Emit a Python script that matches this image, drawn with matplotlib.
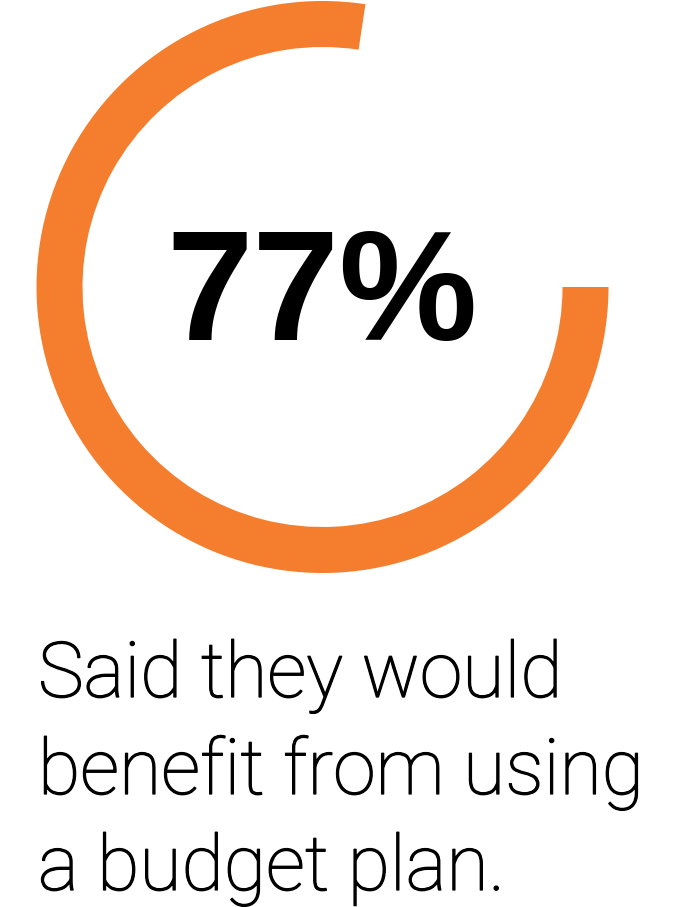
import matplotlib
matplotlib.use("Agg")
import matplotlib.pyplot as plt
from matplotlib.patches import Wedge
import matplotlib.patheffects as pe

# Data
arc_percent = 77.4          # share of the ring that is filled
headline = "77%"
caption_lines = ["Said they would", "benefit from using", "a budget plan."]

W, H = 674, 907
fig = plt.figure(figsize=(W / 100, H / 100), dpi=100)
ax = fig.add_axes([0, 0, 1, 1])
ax.set_xlim(0, W)
ax.set_ylim(H, 0)
ax.axis("off")

orange = "#F47E2D"
cx, cy = 322.5, 287
r_out, ring_w = 286, 46

# y axis is inverted, so increasing theta runs clockwise on screen
span = arc_percent / 100 * 360
ax.add_patch(Wedge((cx, cy), r_out, 0, span, width=ring_w,
                   facecolor=orange, edgecolor="none", antialiased=True))

ax.text(cx, 340, headline, ha="center", va="baseline", fontsize=112,
        fontweight="bold", family=["Liberation Sans", "DejaVu Sans"], color="black")

baselines = [697, 794, 890]
for line, yb in zip(caption_lines, baselines):
    ax.text(38, yb, line, ha="left", va="baseline", fontsize=55.5,
            fontweight="light", family=["Roboto", "DejaVu Sans"], color="black",
            path_effects=[pe.withStroke(linewidth=0.9, foreground="black")])

fig.savefig("out.png", dpi=100)
